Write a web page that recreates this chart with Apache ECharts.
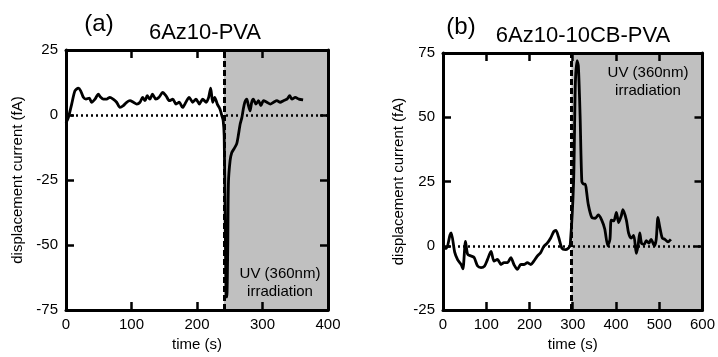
<!DOCTYPE html>
<html>
<head>
<meta charset="utf-8">
<script src="https://cdn.jsdelivr.net/npm/echarts@6/dist/echarts.min.js"></script>
<style>html,body{margin:0;padding:0;background:#fff;}#c{width:718px;height:357px;}</style>
</head>
<body>
<div id="c"></div>
<script>
// Panel (a): 6Az10-PVA
var timeA = [0,3.6,8.7,13.7,18.8,22.4,26.5,30.5,35.6,39,44.3,49.3,53,57,62,67,72,77.3,82.4,87.5,92.6,97.7,102.8,108,113,117,120.6,124,128,132,137,142,147.6,152.7,157.9,163,168,173,178,183,188,193.4,198.5,203.6,208.7,214,217.8,220.9,224,227,231,235,238,240,241.5,243,244.5,245.5,247,248,250.5,253,256.6,260.7,263,266,268.5,270.7,273,276,278,281,283.5,286,290,294,297.5,301.5,306.6,312,317,322,327,332,337.4,341.5,345,350,355.6,362];
var currentA = [-3,-1,4.2,9.3,10.3,9.3,6.8,6.1,6.5,4.9,6.1,8.0,6.8,6.1,6.1,6.8,6.1,4.9,2.9,3.6,4.9,5.5,4.9,4.2,4.9,6.8,5.5,7.4,6.1,8.0,6.1,6.8,8.7,7.4,5.5,6.1,4.2,4.9,2.9,4.9,6.8,4.9,6.1,4.2,6.1,4.9,6.8,10.3,4.9,6.8,4.2,2.3,-0.3,-2.2,-8,-40,-69,-70,-50,-26,-17.6,-14.5,-13,-11,-8,-3.4,-1,2.3,4.9,6.1,4.2,1.6,4.9,6.1,4.2,5.5,3.6,5.5,4.9,4.2,4.9,5.5,4.9,5.5,6.1,7.4,6.1,6.8,6.1,5.8];
// Panel (b): 6Az10-10CB-PVA
var timeB = [1,8,16,19,27,34,42,46,52,57,65,72,80,88,96,103,111,118,126,134,141,149,157,164,172,180,187,195,203,210,218,226,233,241,249,256,261,267,275,283,290,294,302,306,310,313,317,321,325,329,332,336,344,352,359,367,374,381,386,389,395,401,406,412,416,424,429,435,441,447,451,455,459,465,470,476,481,489,493,497,501,507,513,520,527];
var currentB = [-1,-1,4.1,5,-2.5,-5.5,-7.3,-9,1.7,-3.3,-4,-4.6,-7.9,-8.5,-7.9,-5.3,-2.2,-6,-5.3,-7.3,-6.6,-6.6,-4.6,-7.3,-9.2,-7.3,-7.3,-6.6,-7.3,-6,-4,-2.6,-0.3,1,3,5.5,6,3.5,-1,-1.5,-0.9,0,25,63,72,70,50.7,25,24,24,21,16,11,10.7,12,10,6.5,0,2.5,10,9.7,13,9,11.5,14,10,5,3,4,-3,0,5,1,0.5,2,1,2.5,0,2.5,11,7.5,3,2.5,1.5,2.5];
var xTicksA = {min: 0, max: 400, interval: 100};
var yTicksA = {min: -75, max: 25, interval: 25};
var xTicksB = {min: 0, max: 600, interval: 100};
var yTicksB = {min: -25, max: 75, interval: 25};
var uvStartA = 241, uvStartB = 297;

function zip(t, v) { return t.map(function (x, i) { return [x, v[i]]; }); }
var FONT = '"Liberation Sans", Arial, sans-serif';
var axisLineStyle = {onZero: false, lineStyle: {color: '#000', width: 3}};
var tickStyle = {show: true, inside: true, length: 8, lineStyle: {color: '#000', width: 2.5}};

function xAxes(gi, tk) {
  return [
    {type: 'value', gridIndex: gi, position: 'bottom', min: tk.min, max: tk.max, interval: tk.interval, z: 10,
     axisLine: axisLineStyle, axisTick: tickStyle, splitLine: {show: false},
     axisLabel: {color: '#000', fontSize: 15, fontFamily: FONT, margin: 7},
     name: 'time (s)', nameLocation: 'middle', nameGap: 27, nameTextStyle: {color: '#000', fontSize: 15, fontFamily: FONT}},
    {type: 'value', gridIndex: gi, position: 'top', min: tk.min, max: tk.max, interval: tk.interval, z: 10,
     axisLine: axisLineStyle, axisTick: tickStyle, splitLine: {show: false}, axisLabel: {show: false}}
  ];
}
function yAxes(gi, tk, gap) {
  return [
    {type: 'value', gridIndex: gi, position: 'left', min: tk.min, max: tk.max, interval: tk.interval, z: 10,
     axisLine: axisLineStyle, axisTick: tickStyle, splitLine: {show: false},
     axisLabel: {color: '#000', fontSize: 15, fontFamily: FONT, margin: 8},
     name: 'displacement current (fA)', nameLocation: 'middle', nameGap: gap, nameRotate: 90,
     nameTextStyle: {color: '#000', fontSize: 15, fontFamily: FONT}},
    {type: 'value', gridIndex: gi, position: 'right', min: tk.min, max: tk.max, interval: tk.interval, z: 10,
     axisLine: axisLineStyle, axisTick: tickStyle, splitLine: {show: false}, axisLabel: {show: false}}
  ];
}
function lineSeries(xi, yi, data, uvStart, xmax) {
  return {
    type: 'line', xAxisIndex: xi, yAxisIndex: yi, data: data, showSymbol: false, smooth: 0.25,
    lineStyle: {color: '#000', width: 2.8}, z: 3,
    markArea: {silent: true, itemStyle: {color: '#c0c0c0'}, data: [[{xAxis: uvStart}, {xAxis: xmax}]]},
    markLine: {silent: true, symbol: 'none', label: {show: false}, animation: false,
      data: [
        {yAxis: 0, lineStyle: {color: '#000', width: 2.5, type: [2, 3]}},
        {xAxis: uvStart, lineStyle: {color: '#000', width: 3, type: [6, 3]}}
      ]}
  };
}

var chart = echarts.init(document.getElementById('c'));
chart.setOption({
  animation: false,
  backgroundColor: '#fff',
  grid: [
    {left: 66, top: 50, width: 262, height: 261},
    {left: 443, top: 53, width: 262, height: 261}
  ],
  xAxis: xAxes(0, xTicksA).concat(xAxes(1, xTicksB)),
  yAxis: yAxes(0, yTicksA, 41).concat(yAxes(1, yTicksB, 37)),
  series: [
    lineSeries(0, 0, zip(timeA, currentA), uvStartA, xTicksA.max),
    lineSeries(2, 2, zip(timeB, currentB), uvStartB, xTicksB.max)
  ],
  graphic: [
    {type: 'text', x: 99, y: 24, style: {text: '(a)', fontSize: 24, fontFamily: FONT, fill: '#000', align: 'center', verticalAlign: 'middle'}},
    {type: 'text', x: 205, y: 33, style: {text: '6Az10-PVA', fontSize: 22, fontFamily: FONT, fill: '#000', align: 'center', verticalAlign: 'middle'}},
    {type: 'text', x: 461, y: 27, style: {text: '(b)', fontSize: 24, fontFamily: FONT, fill: '#000', align: 'center', verticalAlign: 'middle'}},
    {type: 'text', x: 583, y: 36, style: {text: '6Az10-10CB-PVA', fontSize: 22, fontFamily: FONT, fill: '#000', align: 'center', verticalAlign: 'middle'}},
    {type: 'text', x: 280, y: 283, z: 20, style: {text: 'UV (360nm)\nirradiation', fontSize: 15, lineHeight: 18, fontFamily: FONT, fill: '#000', align: 'center', verticalAlign: 'middle'}},
    {type: 'text', x: 648, y: 82, z: 20, style: {text: 'UV (360nm)\nirradiation', fontSize: 15, lineHeight: 18, fontFamily: FONT, fill: '#000', align: 'center', verticalAlign: 'middle'}}
  ]
});
</script>
</body>
</html>
